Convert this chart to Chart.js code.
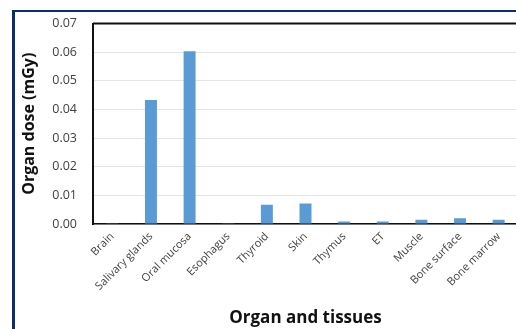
<!DOCTYPE html>
<html>
<head>
<meta charset="utf-8">
<script src="https://cdn.jsdelivr.net/npm/chart.js@4.4.0/dist/chart.umd.min.js"></script>
<style>
  html, body { margin: 0; padding: 0; background: #fff; overflow: hidden; }
  #frame { position: absolute; left: 12px; top: 10px; width: 600px; height: 400px;
           border-top: 2px solid #0b2c6f; border-left: 3px solid #0b2c6f; }
  #wrap { position: absolute; left: 0; top: 0; width: 520px; height: 329px; }
</style>
</head>
<body>
<div id="frame"></div>
<div id="wrap"><canvas id="doseChart"></canvas></div>
<script>
// organ doses (mGy)
const organs = ['Brain', 'Salivary glands', 'Oral mucosa', 'Esophagus', 'Thyroid', 'Skin',
                'Thymus', 'ET', 'Muscle', 'Bone surface', 'Bone marrow'];
const doses = [0.0003, 0.0433, 0.0603, 0.0003, 0.0067, 0.0072, 0.0009, 0.0009, 0.0015, 0.0020, 0.0015];
const yTicks = [0, 0.01, 0.02, 0.03, 0.04, 0.05, 0.06, 0.07];

// black line along the top of the plot area
const topBorder = {
    id: 'topBorder',
    afterDraw(chart) {
        const { ctx, chartArea } = chart;
        ctx.save();
        ctx.strokeStyle = '#111';
        ctx.lineWidth = 2;
        ctx.beginPath();
        ctx.moveTo(chartArea.left, chartArea.top);
        ctx.lineTo(chartArea.right + 2, chartArea.top);
        ctx.stroke();
        ctx.restore();
    }
};

const ctx = document.getElementById('doseChart');
new Chart(ctx, {
    type: 'bar',
    data: {
        labels: organs,
        datasets: [{
            data: doses,
            backgroundColor: '#5b9bd5',
            categoryPercentage: 1,
            barPercentage: 0.31
        }]
    },
    options: {
        responsive: true,
        maintainAspectRatio: false,
        animation: false,
        layout: { padding: { left: 0, right: 2, top: 23, bottom: 1 } },
        plugins: { legend: { display: false }, tooltip: { enabled: false } },
        scales: {
            x: {
                grid: { display: false, drawTicks: false },
                border: { color: '#111', width: 1.5 },
                ticks: {
                    color: '#404040',
                    font: { family: 'Open Sans', size: 11 },
                    autoSkip: false,
                    minRotation: 45, maxRotation: 45,
                    padding: 6
                },
                title: {
                    display: true,
                    text: 'Organ and tissues',
                    color: '#111',
                    font: { family: 'Open Sans', size: 17, weight: 'bold' },
                    padding: 0
                },
                afterFit: s => { s.height = 104; }
            },
            y: {
                min: 0, max: 0.07,
                grid: { color: '#e4e4e4', drawTicks: false },
                border: { color: '#111', width: 2 },
                afterBuildTicks: s => { s.ticks = yTicks.map(v => ({ value: v })); },
                ticks: {
                    color: '#404040',
                    font: { family: 'Open Sans', size: 12.5 },
                    padding: 16,
                    callback: v => v.toFixed(2)
                },
                title: {
                    display: true,
                    text: 'Organ dose (mGy)',
                    color: '#111',
                    font: { family: 'Open Sans', size: 16, weight: 'bold' },
                    padding: { top: 20, bottom: 0 }
                },
                afterFit: s => { s.width = 93; }
            }
        }
    },
    plugins: [topBorder]
});
</script>
</body>
</html>
